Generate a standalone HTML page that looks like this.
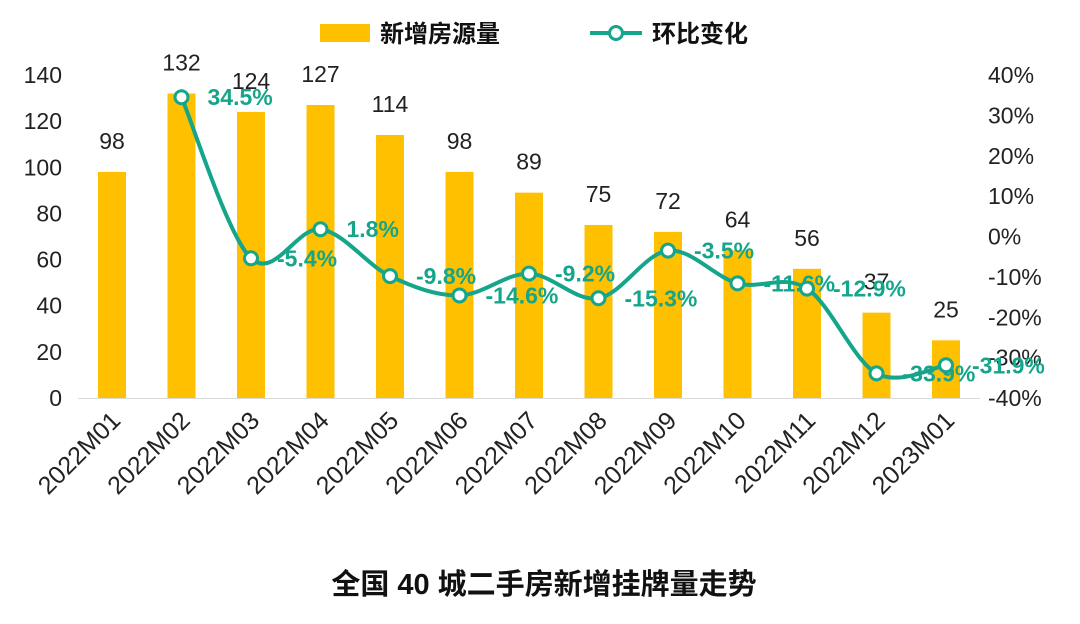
<!DOCTYPE html>
<html><head><meta charset="utf-8"><style>
body{margin:0;background:#fff;width:1080px;height:619px;overflow:hidden;font-family:"Liberation Sans","Noto Sans CJK SC",sans-serif}
</style></head><body>
<svg id="c" width="1080" height="619" font-family="Liberation Sans, Noto Sans CJK SC, sans-serif"></svg>
<script>
const categories=["2022M01","2022M02","2022M03","2022M04","2022M05","2022M06","2022M07","2022M08","2022M09","2022M10","2022M11","2022M12","2023M01"];
const listings=[98,132,124,127,114,98,89,75,72,64,56,37,25];
const mom=[null,34.5,-5.4,1.8,-9.8,-14.6,-9.2,-15.3,-3.5,-11.6,-12.9,-33.9,-31.9];
const leftTicks=[0,20,40,60,80,100,120,140];
const rightTicks=[-40,-30,-20,-10,0,10,20,30,40];
const NS="http://www.w3.org/2000/svg";
const svg=document.getElementById('c');
const x0=112,step=69.5;
const xs=i=>x0+i*step;
const yL=v=>398-v*(323/140);
const yR=v=>236.5-v*(323/80);
const GREEN="#14a58a";
function mk(t,a,txt){const e=document.createElementNS(NS,t);for(const k in a)e.setAttribute(k,a[k]);if(txt!=null)e.textContent=txt;svg.appendChild(e);return e;}
leftTicks.forEach(v=>{const t=mk('text',{x:62,y:yL(v)+8,'text-anchor':'end','font-size':23,fill:'#222'},v);

});
rightTicks.forEach(v=>{const t=mk('text',{x:988,y:yR(v)+8,'font-size':23,fill:'#222'},v+'%');

});
const ax=mk('line',{x1:78,x2:980,y1:398.5,y2:398.5,stroke:'#d9d9d9','stroke-width':1});


categories.forEach((c,i)=>{
 const b=mk('rect',{x:xs(i)-14,y:yL(listings[i]),width:28,height:398-yL(listings[i]),fill:'#FFC000'});
 
 
 const l=mk('text',{x:xs(i),y:yL(listings[i])-23,'text-anchor':'middle','font-size':23,fill:'#222'},listings[i]);
 
 
 const xl=mk('text',{x:xs(i)+10,y:422,'text-anchor':'end','font-size':25,fill:'#222',transform:`rotate(-45 ${xs(i)+10} 422)`},c);
 
 
});
const pts=[];mom.forEach((v,i)=>{if(v!=null)pts.push([xs(i),yR(v)]);});
let d=`M${pts[0][0]},${pts[0][1]}`;
for(let i=0;i<pts.length-1;i++){const p0=pts[i-1]||pts[i],p1=pts[i],p2=pts[i+1],p3=pts[i+2]||p2;
 d+=` C${p1[0]+(p2[0]-p0[0])/6},${p1[1]+(p2[1]-p0[1])/6} ${p2[0]-(p3[0]-p1[0])/6},${p2[1]-(p3[1]-p1[1])/6} ${p2[0]},${p2[1]}`;}
const ln=mk('path',{d:d,fill:'none',stroke:GREEN,'stroke-width':4});


mom.forEach((v,i)=>{if(v==null)return;
 const c=mk('circle',{cx:xs(i),cy:yR(v),r:6.5,fill:'#fff',stroke:GREEN,'stroke-width':3});
 
 
 const t=mk('text',{x:xs(i)+26,y:yR(v)+8,'font-size':23,'font-weight':'bold',fill:GREEN},v.toFixed(1)+'%');
 
 
});
</script>
<svg width="1080" height="619" style="position:absolute;left:0;top:0" font-family="Liberation Sans, Noto Sans CJK SC, sans-serif">
<g><rect x="320" y="24" width="50" height="18" fill="#FFC000"/><text x="380" y="42" font-size="24" font-weight="bold" fill="#111">新增房源量</text></g>
<g><line x1="590" x2="642" y1="33" y2="33" stroke="#14a58a" stroke-width="4"/><circle cx="616" cy="33" r="6.5" fill="#fff" stroke="#14a58a" stroke-width="3"/><text x="652" y="42" font-size="24" font-weight="bold" fill="#111">环比变化</text></g>
<text x="544" y="594" text-anchor="middle" font-size="29" font-weight="bold" fill="#111">全国 40 城二手房新增挂牌量走势</text>
</svg>
</body></html>
